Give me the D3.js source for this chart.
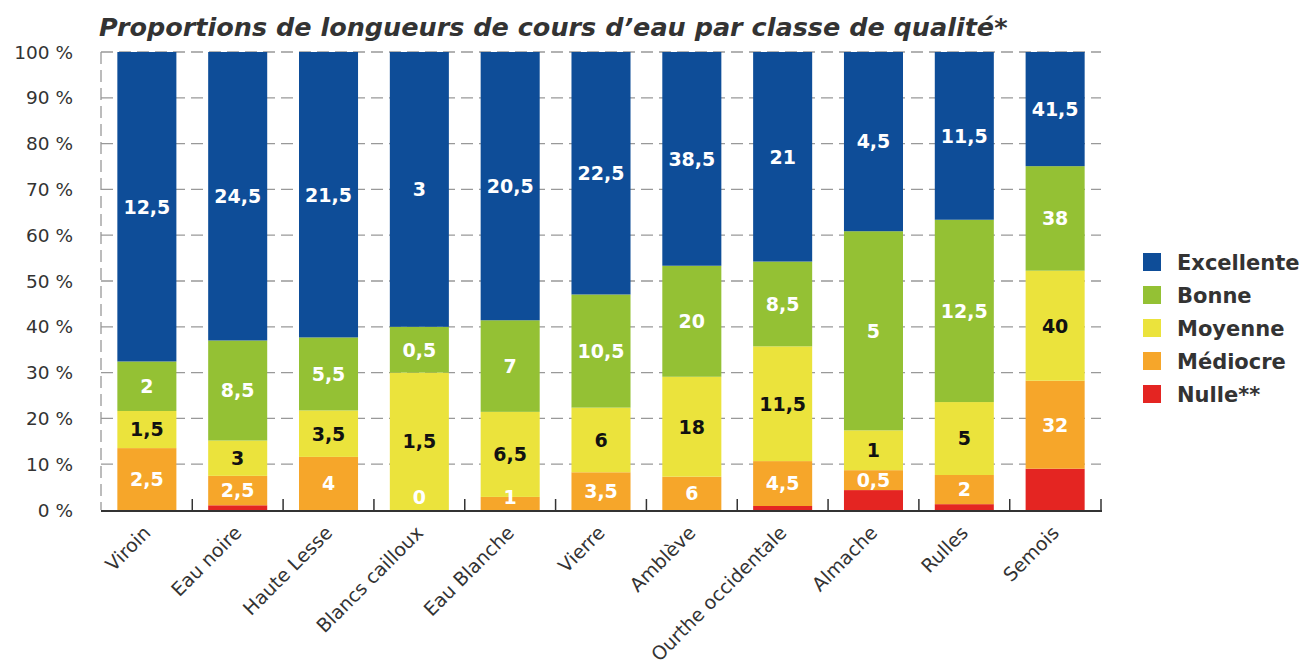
<!DOCTYPE html>
<html>
<head>
<meta charset="utf-8">
<script src="https://cdn.jsdelivr.net/npm/d3@7"></script>
<style>
  body { margin: 0; background: #fff; }
  svg { font-family: "DejaVu Sans", sans-serif; }
</style>
</head>
<body>
<div id="chart"></div>
<script>
// rivers and lengths (km) per quality class
const rivers = ["Viroin", "Eau noire", "Haute Lesse", "Blancs cailloux", "Eau Blanche", "Vierre",
  "Amblève", "Ourthe occidentale", "Almache", "Rulles", "Semois"];
const nulle      = [0, 0.4, 0, 0, 0, 0, 0, 0.4, 0.5, 0.4, 15];
const mediocre   = [2.5, 2.5, 4, 0, 1, 3.5, 6, 4.5, 0.5, 2, 32];
const moyenne    = [1.5, 3, 3.5, 1.5, 6.5, 6, 18, 11.5, 1, 5, 40];
const bonne      = [2, 8.5, 5.5, 0.5, 7, 10.5, 20, 8.5, 5, 12.5, 38];
const excellente = [12.5, 24.5, 21.5, 3, 20.5, 22.5, 38.5, 21, 4.5, 11.5, 41.5];
const yTicks = [0, 10, 20, 30, 40, 50, 60, 70, 80, 90, 100];

const series = [
  { name: "Nulle**", values: nulle, color: "#e42522", text: "#fff", label: false },
  { name: "Médiocre", values: mediocre, color: "#f6a62a", text: "#fff", label: true },
  { name: "Moyenne", values: moyenne, color: "#ebe33c", text: "#111", label: true },
  { name: "Bonne", values: bonne, color: "#94c134", text: "#fff", label: true },
  { name: "Excellente", values: excellente, color: "#0e4d98", text: "#fff", label: true }
];

const W = 1308, H = 671;
const m = { left: 101, right: 1101, top: 52, bottom: 510 };

const svg = d3.select("#chart").append("svg").attr("width", W).attr("height", H);

const x = d3.scaleBand().domain(rivers).range([m.left, m.right]).paddingInner(0.35).paddingOuter(0.18);
const y = d3.scaleLinear().domain([0, 100]).range([m.bottom, m.top]);

// stacked percentages
const rows = rivers.map((r, i) => {
  const total = d3.sum(series, s => s.values[i]);
  let acc = 0;
  return series.map(s => {
    const v = s.values[i];
    const p0 = acc / total * 100;
    acc += v;
    return { river: r, s, v, p0, p1: acc / total * 100 };
  });
});

// grid
svg.append("g").selectAll("line").data(yTicks.filter(d => d > 0)).join("line")
  .attr("x1", m.left).attr("x2", m.right)
  .attr("y1", d => y(d)).attr("y2", d => y(d))
  .attr("stroke", "#999").attr("stroke-width", 1.3).attr("stroke-dasharray", "12,6");
svg.append("line")
  .attr("x1", m.left).attr("x2", m.left).attr("y1", m.top).attr("y2", m.bottom)
  .attr("stroke", "#999").attr("stroke-width", 1.3).attr("stroke-dasharray", "12,6");

// bars
const bars = svg.append("g");
rows.forEach(row => {
  bars.selectAll(null).data(row.filter(d => d.v > 0)).join("rect")
    .attr("x", d => x(d.river)).attr("width", x.bandwidth())
    .attr("y", d => y(d.p1)).attr("height", d => y(d.p0) - y(d.p1))
    .attr("fill", d => d.s.color);
});

// value labels
const fmt = v => String(v).replace(".", ",");
rows.forEach(row => {
  bars.selectAll(null).data(row.filter(d => d.s.label)).join("text")
    .attr("x", d => x(d.river) + x.bandwidth() / 2)
    .attr("y", d => Math.min(y((d.p0 + d.p1) / 2), m.bottom - 13))
    .attr("dy", "0.36em")
    .attr("text-anchor", "middle")
    .attr("font-size", 19).attr("font-weight", "bold")
    .attr("fill", d => d.s.text)
    .text(d => fmt(d.v));
});

// x axis
const xAxis = svg.append("g");
xAxis.append("line").attr("x1", m.left).attr("x2", m.right + 1)
  .attr("y1", m.bottom + 1).attr("y2", m.bottom + 1)
  .attr("stroke", "#333").attr("stroke-width", 2.2);
const sepX = rivers.slice(1).map(r => x(r) - x.step() * x.paddingInner() / 2).concat([m.right]);
xAxis.selectAll("line.t").data(sepX).join("line").attr("class", "t")
  .attr("x1", d => d).attr("x2", d => d).attr("y1", m.bottom).attr("y2", m.bottom - 11)
  .attr("stroke", "#333").attr("stroke-width", 1.5);
xAxis.selectAll("text").data(rivers).join("text")
  .attr("transform", d => `translate(${x(d) + x.bandwidth() / 2 + 5},${m.bottom + 24}) rotate(-45)`)
  .attr("text-anchor", "end")
  .attr("font-size", 19).attr("fill", "#333")
  .text(d => d);

// y labels
svg.append("g").selectAll("text").data(yTicks).join("text")
  .attr("x", 73).attr("y", d => y(d)).attr("dy", "0.36em")
  .attr("text-anchor", "end").attr("font-size", 18.5).attr("fill", "#333")
  .text(d => d + " %");

// title
svg.append("text").attr("x", 99).attr("y", 36)
  .attr("font-size", 25.5).attr("font-weight", "bold").attr("font-style", "italic")
  .attr("fill", "#333")
  .text("Proportions de longueurs de cours d’eau par classe de qualité*");

// legend
const leg = svg.append("g").selectAll("g").data(series.slice().reverse()).join("g")
  .attr("transform", (d, i) => `translate(1143,${262 + i * 33})`);
leg.append("rect").attr("x", 0).attr("y", -9).attr("width", 18).attr("height", 18)
  .attr("fill", d => d.color);
leg.append("text").attr("x", 34).attr("dy", "0.36em")
  .attr("font-size", 21).attr("font-weight", "bold").attr("fill", "#333")
  .text(d => d.name);
</script>
</body>
</html>
